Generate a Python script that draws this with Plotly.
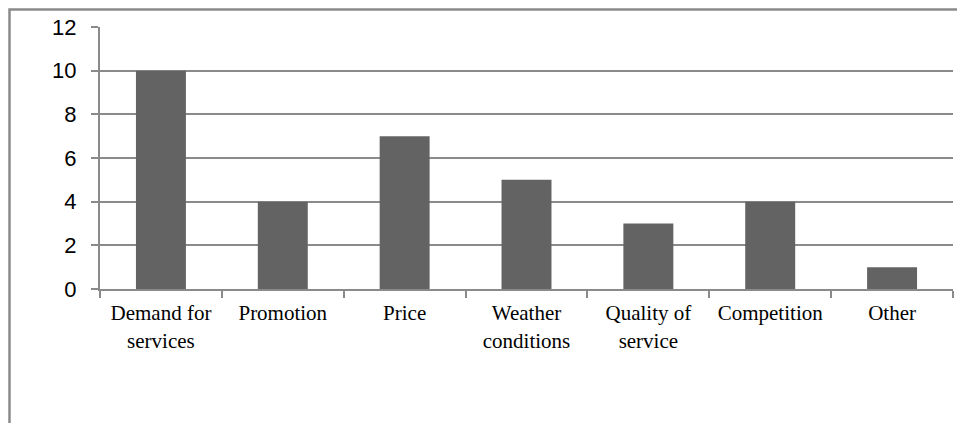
import plotly.graph_objects as go

categories = ["Demand for<br>services", "Promotion", "Price", "Weather<br>conditions",
              "Quality of<br>service", "Competition", "Other"]
values = [10, 4, 7, 5, 3, 4, 1]
y_ticks = [0, 2, 4, 6, 8, 10, 12]

# page has an 8px body offset
OFF = 8
W, H = 965 - OFF, 423 - OFF
L, R, T, B = 100 - OFF, 12, 27 - OFF, 134
pw, ph = W - L - R, H - T - B

fig = go.Figure(go.Bar(x=categories, y=values, marker=dict(color="#636363", line=dict(width=0)),
                       width=0.41))

gray = "#8a8a8a"
fig.update_layout(
    width=W, height=H,
    margin=dict(l=L, r=R, t=T, b=B, autoexpand=False),
    plot_bgcolor="white", paper_bgcolor="white",
    showlegend=False,
    xaxis=dict(showline=True, linecolor=gray, linewidth=2, ticks="outside", tickson="boundaries",
               ticklen=7, tickcolor=gray, tickwidth=1.5, showgrid=False, automargin=False,
               tickfont=dict(family="Liberation Serif, Times New Roman, serif", size=21, color="black"),
               tickangle=0, ticklabelstandoff=4),
    yaxis=dict(range=[0, 12], tickvals=y_ticks, showline=True, linecolor=gray, linewidth=2,
               ticks="outside", ticklen=7, tickcolor=gray, tickwidth=1.5, automargin=False,
               showgrid=True, gridcolor=gray, gridwidth=1.5, zeroline=False,
               tickfont=dict(family="Liberation Sans", size=22, color="black"),
               ticklabelstandoff=10),
    bargap=0.59,
)

# outer frame: open rectangle whose right and bottom edges fall outside the figure
fig.add_shape(type="rect", xref="paper", yref="paper",
              x0=(1.5 - L) / pw, x1=(W + 20 - L) / pw,
              y0=-(B + 20) / ph, y1=(T + ph - 1.5) / ph,
              line=dict(color=gray, width=2.5), fillcolor="rgba(0,0,0,0)", layer="above")

fig.write_html("out.html")
